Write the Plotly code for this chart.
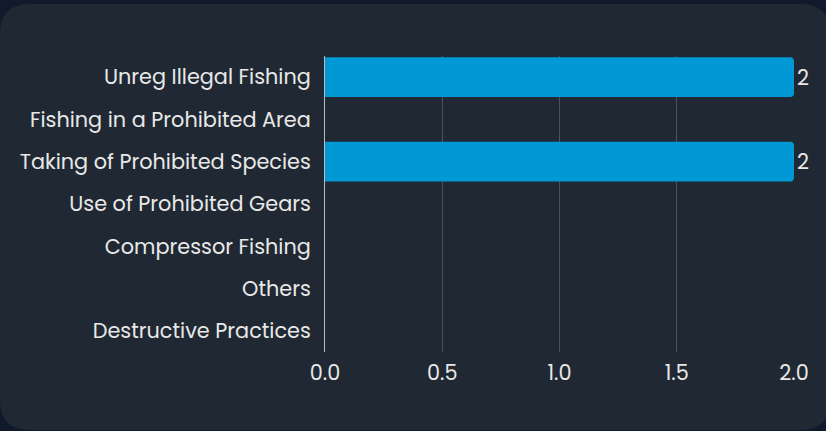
import plotly.graph_objects as go

categories = ["Unreg Illegal Fishing", "Fishing in a Prohibited Area", "Taking of Prohibited Species",
              "Use of Prohibited Gears", "Compressor Fishing", "Others", "Destructive Practices"]
values = [2, 0, 2, 0, 0, 0, 0]
labels = ["2", "", "2", "", "", "", ""]
x_ticks = [0, 0.5, 1.0, 1.5, 2.0]
x_tick_text = ["0.0", "0.5", "1.0", "1.5", "2.0"]

W, H = 826, 431
L, R, T, B = 325, 32, 56, 79
pw, ph = W - L - R, H - T - B

def px(x):
    return (x - L) / pw

def py(y):
    return (H - B - y) / ph

FONT = "Poppins, Lato, 'Noto Sans', sans-serif"
FS = 20.8

fig = go.Figure(go.Bar(
    y=categories, x=values, orientation="h",
    marker=dict(color="#0099d6", cornerradius=4, line=dict(width=0)),
    text=labels, textposition="outside", cliponaxis=False, constraintext="none",
    textfont=dict(color="#e8e8e8", size=FS, family=FONT),
    hoverinfo="skip",
))

# rounded card
x0, x1, y0, y1, r = 0, 830, 4, 430, 30
path = (f"M {px(x0+r)},{py(y0)} L {px(x1-r)},{py(y0)} Q {px(x1)},{py(y0)} {px(x1)},{py(y0+r)} "
        f"L {px(x1)},{py(y1-r)} Q {px(x1)},{py(y1)} {px(x1-r)},{py(y1)} "
        f"L {px(x0+r)},{py(y1)} Q {px(x0)},{py(y1)} {px(x0)},{py(y1-r)} "
        f"L {px(x0)},{py(y0+r)} Q {px(x0)},{py(y0)} {px(x0+r)},{py(y0)} Z")

fig.update_layout(
    width=W, height=H,
    margin=dict(l=L, r=R, t=T, b=B),
    paper_bgcolor="#111a2c", plot_bgcolor="rgba(0,0,0,0)",
    showlegend=False, bargap=0.06,
    font=dict(family=FONT, color="#e8e8e8", size=FS),
    shapes=[dict(type="path", path=path, xref="paper", yref="paper",
                 fillcolor="#202933", line=dict(width=0), layer="below")],
    xaxis=dict(range=[0, 2], tickvals=x_ticks, ticktext=x_tick_text,
               showgrid=True, gridcolor="#4a525d", gridwidth=1,
               zeroline=False, showline=False, ticks="", ticklen=0,
               ticklabelstandoff=6,
               tickfont=dict(size=FS, color="#e8e8e8")),
    yaxis=dict(autorange="reversed", showgrid=False, zeroline=False,
               showline=True, linecolor="#b8bcc2", linewidth=1,
               ticks="", ticklabelstandoff=9,
               tickfont=dict(size=FS, color="#e8e8e8")),
)

fig.write_html("out.html", config={"displayModeBar": False},
               post_script="document.body.style.margin='0';document.body.style.background='#111a2c';")
